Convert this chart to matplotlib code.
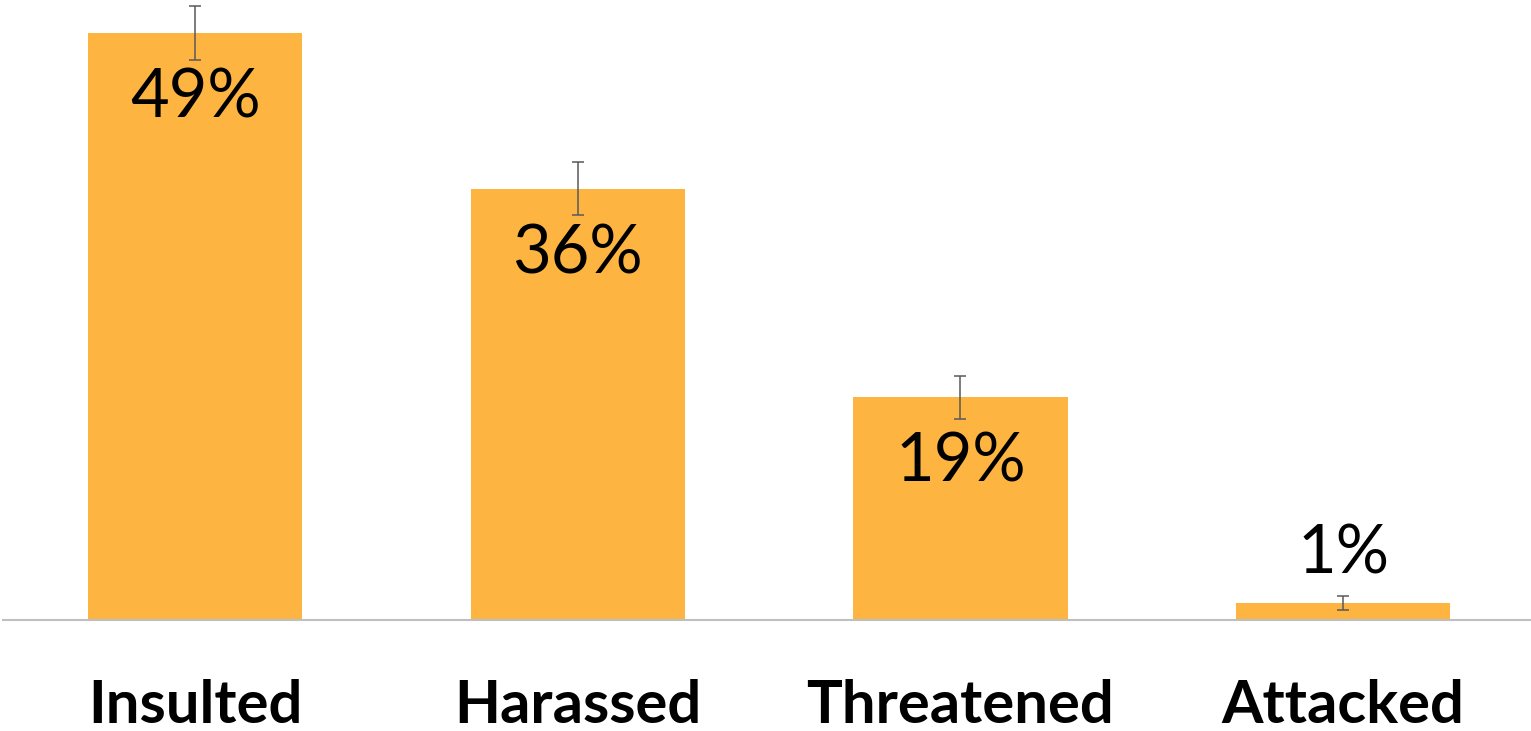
import matplotlib.pyplot as plt

# Données
categories = ["Insulted", "Harassed", "Threatened", "Attacked"]
values = [49.0, 36.0, 18.6, 1.4]
errors = [2.25, 2.2, 1.8, 0.6]
labels = ["49%", "36%", "19%", "1%"]

bar_color = "#FDB441"
err_color = "#595959"

fig = plt.figure(figsize=(15.31, 7.31), dpi=100)
ax = fig.add_axes([3 / 1531, 111 / 731, 1528 / 1531, 620 / 731])

x = range(len(categories))
ax.bar(x, values, width=0.56, color=bar_color, zorder=2)
ax.errorbar(x, values, yerr=errors, fmt="none", ecolor=err_color,
            elinewidth=1.1, capsize=4.3, capthick=1.1, zorder=3)

# Étiquettes de valeur : dans la barre, sauf si la barre est trop petite
for i, (v, lab) in enumerate(zip(values, labels)):
    if v > 5:
        off = -61
    else:
        off = 21.5
    ax.annotate(lab, xy=(i, v), xytext=(0, off), textcoords="offset points",
                ha="center", va="baseline", fontsize=48, family="Lato",
                color="black", zorder=4)

# Noms des catégories sous l'axe
for i, cat in enumerate(categories):
    ax.annotate(cat, xy=(i, 0), xytext=(0, -74), textcoords="offset points",
                ha="center", va="baseline", fontsize=43, fontweight="bold",
                family="Lato", color="black", annotation_clip=False)

ax.set_xlim(-0.502, 3.491)
ax.set_ylim(0, 51.75)
for s in ["top", "left", "right"]:
    ax.spines[s].set_visible(False)
ax.spines["bottom"].set_color("#BFBFBF")
ax.spines["bottom"].set_linewidth(1.5)
ax.set_xticks([])
ax.set_yticks([])
ax.patch.set_alpha(0)

fig.savefig("out.png", dpi=100)
